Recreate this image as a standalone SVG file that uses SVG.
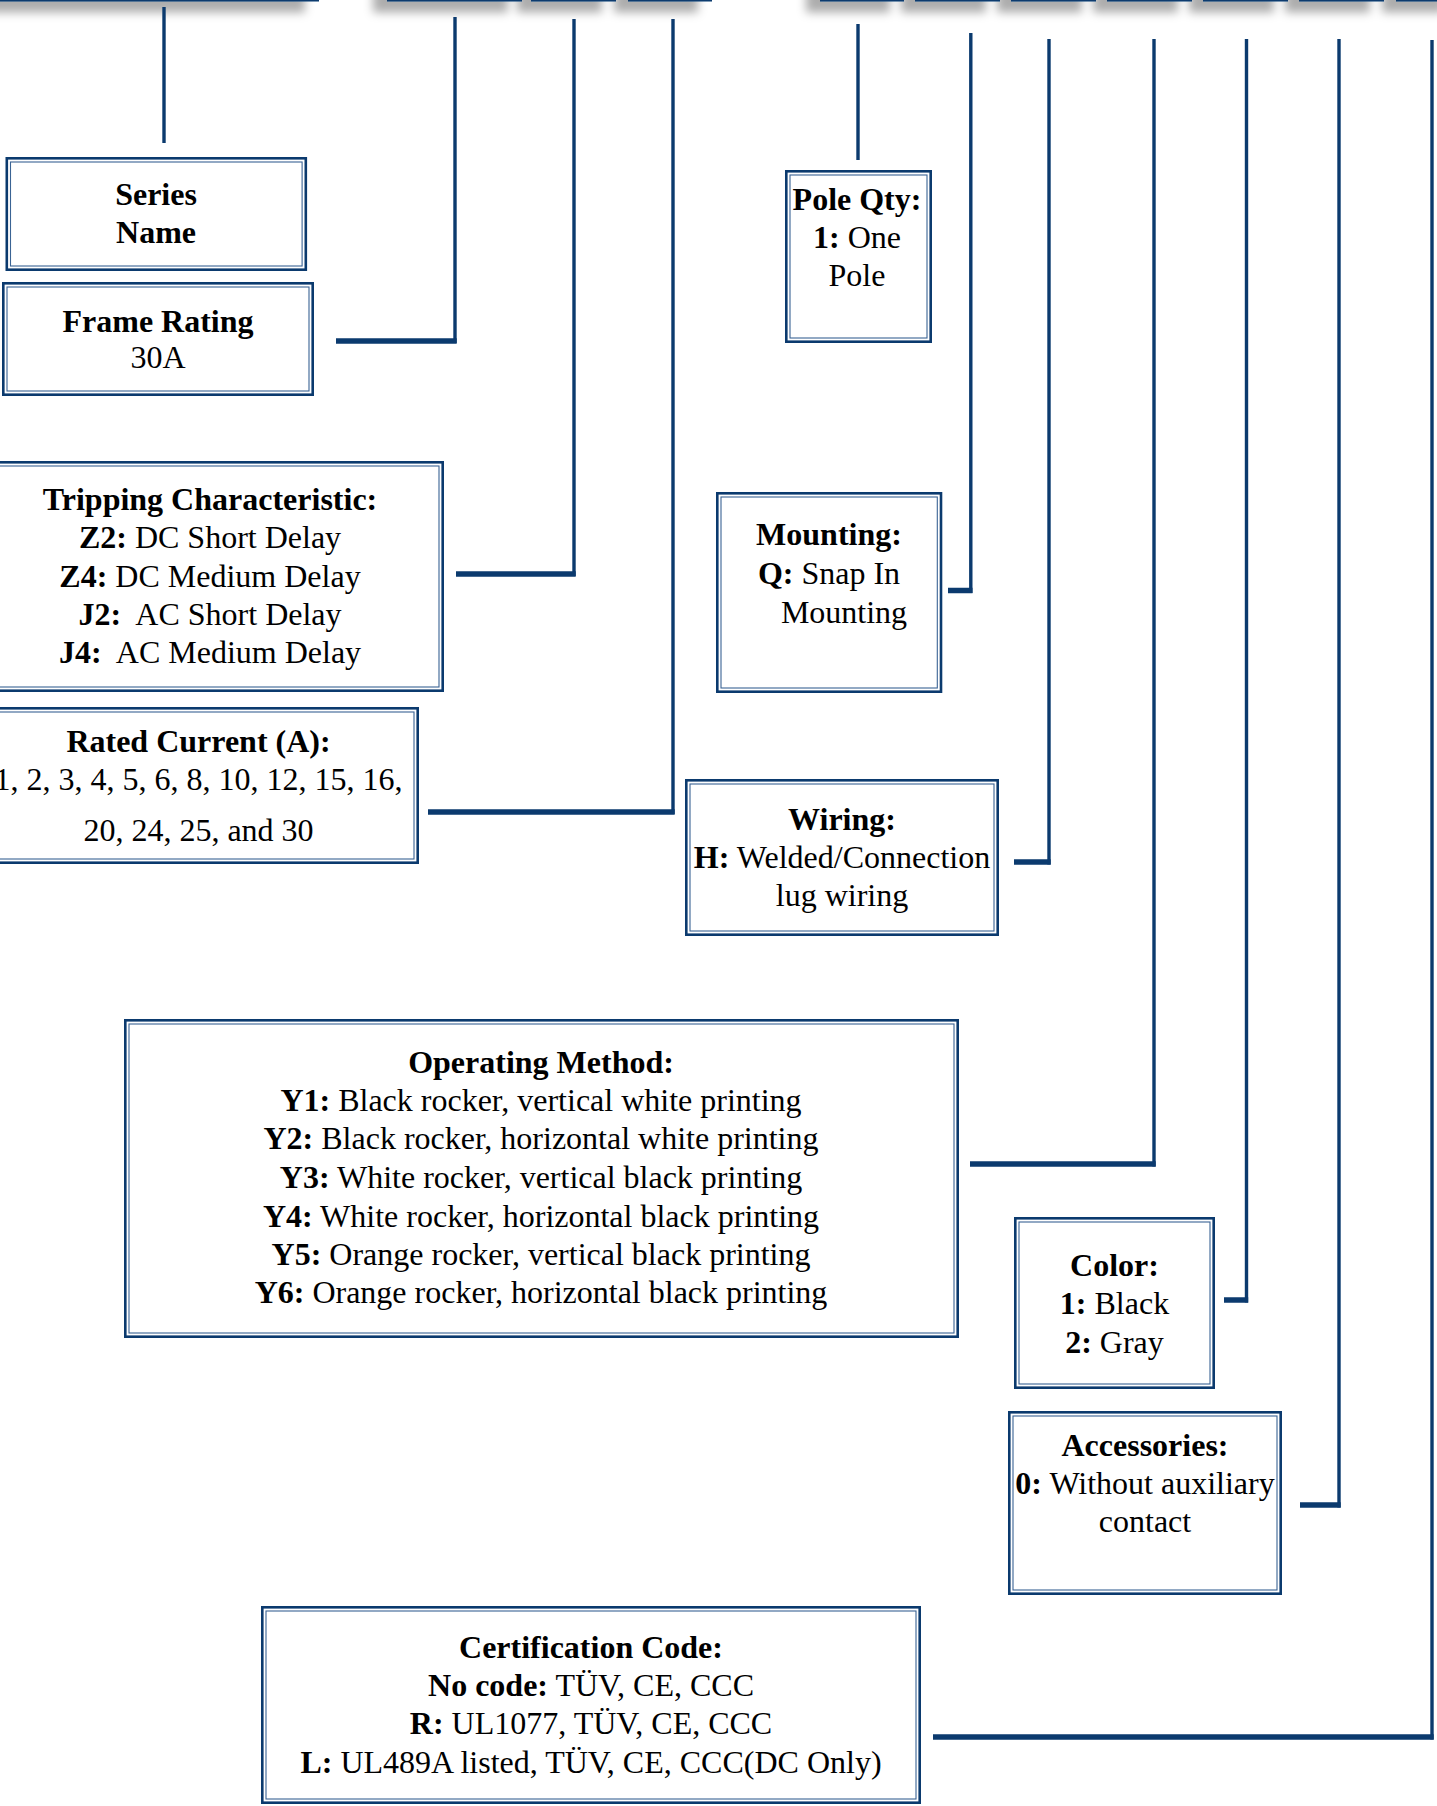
<svg xmlns="http://www.w3.org/2000/svg" width="1437" height="1806" viewBox="0 0 1437 1806">
<style>
.bx{fill:#fff;stroke:#0b3a6e;stroke-width:2.6}
.bi{fill:none;stroke:#3a6394;stroke-width:1.1}
.tb{fill:#fff;stroke:#0b3a6e;stroke-width:2}
text{font-family:"Liberation Serif","Times New Roman",serif;font-size:32px;fill:#000;text-anchor:middle}
.b{font-weight:bold}
.v{stroke:#0b3a6e;stroke-width:3.4;fill:none}
.h{stroke:#0b3a6e;stroke-width:5.5;fill:none}
</style>
<defs>
<filter id="sh" x="-30%" y="-30%" width="160%" height="200%">
<feDropShadow dx="-14" dy="11" stdDeviation="5" flood-color="#000" flood-opacity="0.32"/>
</filter>
</defs>
<rect width="1437" height="1806" fill="#fff"/>
<g id="code-boxes" filter="url(#sh)">
<rect class="tb" x="-5" y="-60" width="323" height="60.5"/>
<rect class="tb" x="388" y="-60" width="133" height="60.5"/>
<rect class="tb" x="532" y="-60" width="83" height="60.5"/>
<rect class="tb" x="629" y="-60" width="82" height="60.5"/>
<rect class="tb" x="821" y="-60" width="82" height="60.5"/>
<rect class="tb" x="916" y="-60" width="83" height="60.5"/>
<rect class="tb" x="1012" y="-60" width="83" height="60.5"/>
<rect class="tb" x="1108" y="-60" width="83" height="60.5"/>
<rect class="tb" x="1204" y="-60" width="83" height="60.5"/>
<rect class="tb" x="1300" y="-60" width="83" height="60.5"/>
<rect class="tb" x="1397" y="-60" width="60" height="60.5"/>
</g>
<g id="connectors">
<line class="v" x1="164" y1="7" x2="164" y2="143"/>
<line class="v" x1="455" y1="17" x2="455" y2="343"/>
<line class="h" x1="336" y1="341" x2="456.7" y2="341"/>
<line class="v" x1="574" y1="19" x2="574" y2="576"/>
<line class="h" x1="456" y1="574" x2="575.7" y2="574"/>
<line class="v" x1="673" y1="19" x2="673" y2="814"/>
<line class="h" x1="428" y1="812" x2="674.7" y2="812"/>
<line class="v" x1="858" y1="24" x2="858" y2="160"/>
<line class="v" x1="970.8" y1="33" x2="970.8" y2="593"/>
<line class="h" x1="948" y1="590.5" x2="972.5" y2="590.5"/>
<line class="v" x1="1049" y1="39" x2="1049" y2="864.5"/>
<line class="h" x1="1014" y1="862" x2="1050.7" y2="862"/>
<line class="v" x1="1154" y1="39" x2="1154" y2="1166.5"/>
<line class="h" x1="970" y1="1164" x2="1155.7" y2="1164"/>
<line class="v" x1="1246.5" y1="39" x2="1246.5" y2="1302.5"/>
<line class="h" x1="1224" y1="1300" x2="1248.2" y2="1300"/>
<line class="v" x1="1339" y1="39" x2="1339" y2="1507.5"/>
<line class="h" x1="1300" y1="1505" x2="1340.7" y2="1505"/>
<line class="v" x1="1432" y1="40" x2="1432" y2="1739.5"/>
<line class="h" x1="933" y1="1737" x2="1433.7" y2="1737"/>
</g>
<g id="series-name">
<rect class="bx" x="6.8" y="158.3" width="299" height="111.4"/>
<rect class="bi" x="10.5" y="162" width="291.6" height="104"/>
<text class="b" x="156" y="205">Series</text>
<text class="b" x="156" y="243">Name</text>
</g>
<g id="frame-rating">
<rect class="bx" x="3.3" y="283.3" width="309.4" height="111.4"/>
<rect class="bi" x="7" y="287" width="302" height="104"/>
<text class="b" x="158" y="332">Frame Rating</text>
<text x="158" y="368">30A</text>
</g>
<g id="tripping">
<rect class="bx" x="-10" y="462.3" width="452.7" height="228.4"/>
<rect class="bi" x="-10" y="466" width="449" height="221"/>
<text class="b" x="210" y="510">Tripping Characteristic:</text>
<text x="210" y="548"><tspan class="b">Z2:</tspan> DC Short Delay</text>
<text x="210" y="587"><tspan class="b">Z4:</tspan> DC Medium Delay</text>
<text x="210" y="625"><tspan class="b">J2:</tspan>&#160; AC Short Delay</text>
<text x="210" y="663"><tspan class="b">J4:</tspan>&#160; AC Medium Delay</text>
</g>
<g id="rated-current">
<rect class="bx" x="-10" y="708.3" width="427.7" height="154.4"/>
<rect class="bi" x="-10" y="712" width="424" height="147"/>
<text class="b" x="198.5" y="752">Rated Current (A):</text>
<text x="198.5" y="790">1, 2, 3, 4, 5, 6, 8, 10, 12, 15, 16,</text>
<text x="198.5" y="841">20, 24, 25, and 30</text>
</g>
<g id="pole-qty">
<rect class="bx" x="786.3" y="171.3" width="144.4" height="170.4"/>
<rect class="bi" x="790" y="175" width="137" height="163"/>
<text class="b" x="857" y="210">Pole Qty:</text>
<text x="857" y="248"><tspan class="b">1:</tspan> One</text>
<text x="857" y="286">Pole</text>
</g>
<g id="mounting">
<rect class="bx" x="717.3" y="493.3" width="223.7" height="198.4"/>
<rect class="bi" x="721" y="497" width="216.3" height="191"/>
<text class="b" x="829" y="545">Mounting:</text>
<text x="829" y="584"><tspan class="b">Q:</tspan> Snap In</text>
<text x="844" y="623">Mounting</text>
</g>
<g id="wiring">
<rect class="bx" x="686.3" y="780.3" width="311.4" height="154.4"/>
<rect class="bi" x="690" y="784" width="304" height="147"/>
<text class="b" x="842" y="830">Wiring:</text>
<text x="842" y="868"><tspan class="b">H:</tspan> Welded/Connection</text>
<text x="842" y="906">lug wiring</text>
</g>
<g id="operating-method">
<rect class="bx" x="125.3" y="1020.3" width="832.4" height="316.4"/>
<rect class="bi" x="129" y="1024" width="825" height="309"/>
<text class="b" x="541" y="1073">Operating Method:</text>
<text x="541" y="1111"><tspan class="b">Y1:</tspan> Black rocker, vertical white printing</text>
<text x="541" y="1149"><tspan class="b">Y2:</tspan> Black rocker, horizontal white printing</text>
<text x="541" y="1188"><tspan class="b">Y3:</tspan> White rocker, vertical black printing</text>
<text x="541" y="1227"><tspan class="b">Y4:</tspan> White rocker, horizontal black printing</text>
<text x="541" y="1265"><tspan class="b">Y5:</tspan> Orange rocker, vertical black printing</text>
<text x="541" y="1303"><tspan class="b">Y6:</tspan> Orange rocker, horizontal black printing</text>
</g>
<g id="color">
<rect class="bx" x="1015.3" y="1218.3" width="198.4" height="169.4"/>
<rect class="bi" x="1019" y="1222" width="191" height="162"/>
<text class="b" x="1114.5" y="1276">Color:</text>
<text x="1114.5" y="1314"><tspan class="b">1:</tspan> Black</text>
<text x="1114.5" y="1353"><tspan class="b">2:</tspan> Gray</text>
</g>
<g id="accessories">
<rect class="bx" x="1009.3" y="1412.3" width="271.4" height="181.4"/>
<rect class="bi" x="1013" y="1416" width="264" height="174"/>
<text class="b" x="1145" y="1456">Accessories:</text>
<text x="1145" y="1494"><tspan class="b">0:</tspan> Without auxiliary</text>
<text x="1145" y="1532">contact</text>
</g>
<g id="certification">
<rect class="bx" x="262.3" y="1607.3" width="657.4" height="195.4"/>
<rect class="bi" x="266" y="1611" width="650" height="188"/>
<text class="b" x="591" y="1658">Certification Code:</text>
<text x="591" y="1696"><tspan class="b">No code:</tspan> TÜV, CE, CCC</text>
<text x="591" y="1734"><tspan class="b">R:</tspan> UL1077, TÜV, CE, CCC</text>
<text x="591" y="1773"><tspan class="b">L:</tspan> UL489A listed, TÜV, CE, CCC(DC Only)</text>
</g>
</svg>
